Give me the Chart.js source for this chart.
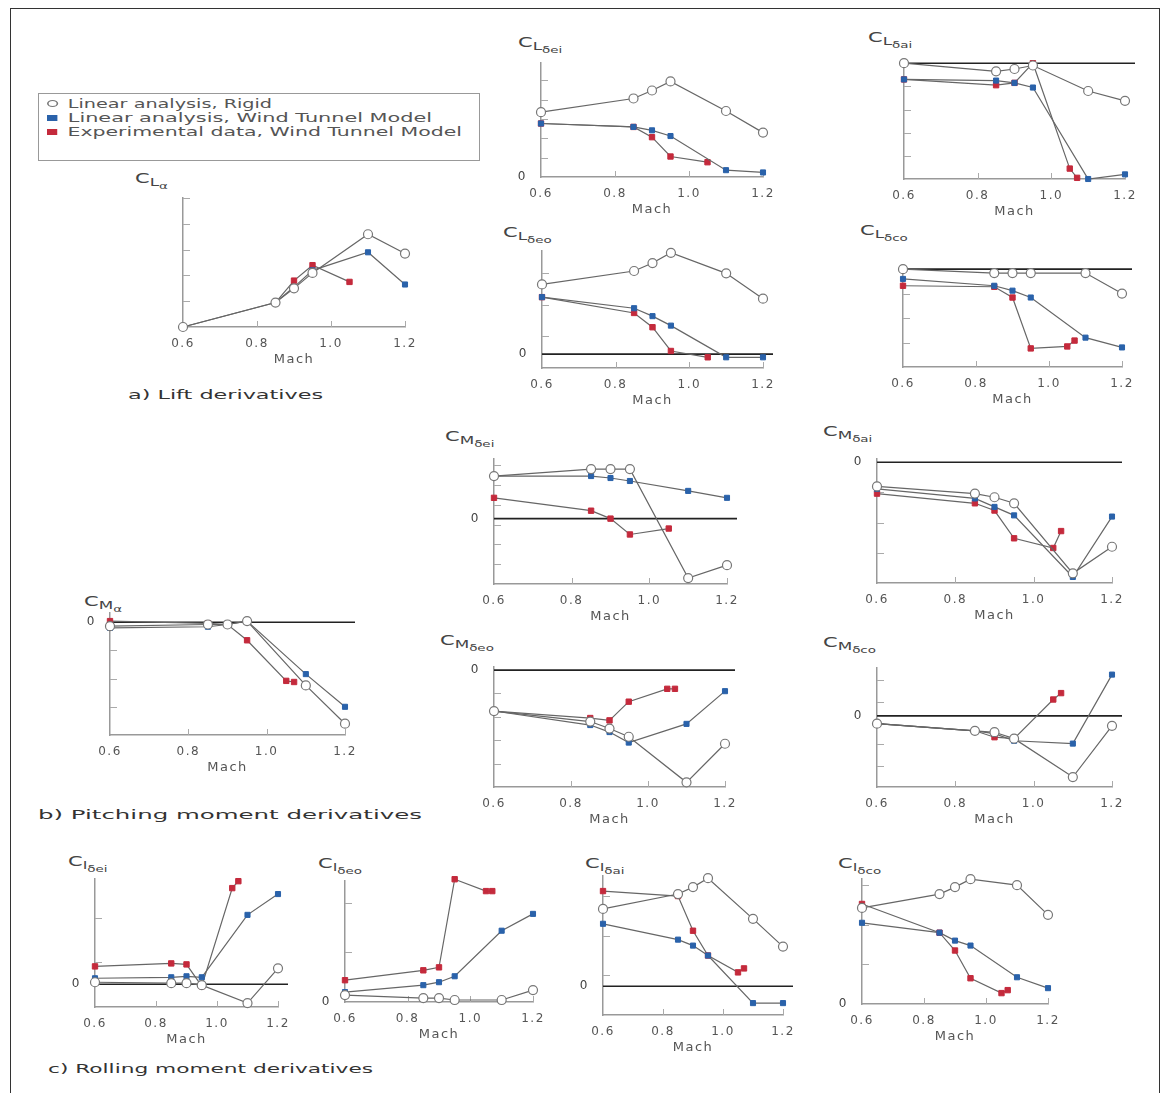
<!DOCTYPE html>
<html>
<head>
<meta charset="utf-8">
<script src="https://cdn.jsdelivr.net/npm/chart.js@4/dist/chart.umd.min.js"></script>
<style>
  html, body { margin: 0; padding: 0; background: #fff; }
  body { width: 1163px; height: 1093px; position: relative; overflow: hidden;
         font-family: "DejaVu Sans", "Liberation Sans", Arial, sans-serif; color: #444; }
  .frame { position: absolute; left: 10px; top: 8px; width: 1148px; height: 1110px; border: 1.5px solid #333; }
  .lbl { position: absolute; font-size: 14px; color: #444; white-space: nowrap; transform-origin: left top; }
  .lbl sub { font-size: 80%; vertical-align: -0.3em; }
  .section { position: absolute; font-size: 13px; color: #333; white-space: nowrap; transform-origin: left top; }
  .legend { position: absolute; left: 38px; top: 93px; width: 440px; height: 66px; border: 1px solid #999; }
  .legend div { position: absolute; left: 8px; font-size: 12px; color: #555; white-space: nowrap; transform-origin: left top; }
  .mk { display: inline-block; width: 6px; height: 6px; margin-right: 6px; vertical-align: 1px; }
</style>
</head>
<body>
<div class="frame"></div>

<div class="legend">
  <div data-w="225" style="top:3px"><span class="mk" style="border:1px solid #777;border-radius:50%;width:5px;height:5px"></span>Linear analysis, Rigid</div>
  <div data-w="385" style="top:17px"><span class="mk" style="background:#2a62aa"></span>Linear analysis, Wind Tunnel Model</div>
  <div data-w="415" style="top:31px"><span class="mk" style="background:#c42a3c"></span>Experimental data, Wind Tunnel Model</div>
</div>

<div class="section" data-w="195" style="left:128px;top:387px">a) Lift derivatives</div>
<div class="section" data-w="384" style="left:38px;top:807px">b) Pitching moment derivatives</div>
<div class="section" data-w="325" style="left:48px;top:1061px">c) Rolling moment derivatives</div>

<script>
// Mach numbers of the three data sets
const RIGID_MACH = [0.6, 0.85, 0.9, 0.95, 1.1, 1.2];
const MODEL_MACH = [0.6, 0.85, 0.9, 0.95, 1.1, 1.2];
const EXP_MACH = [0.6, 0.85, 0.9, 0.95, 1.05];
const EXP_MACH_2 = [0.6, 0.85, 0.9, 0.95, 1.05, 1.07];
const MACH_TICKS = [0.6, 0.8, 1.0, 1.2];

// a) lift derivatives (arbitrary units read off the figure)
const CL_ALPHA_RIGID = [0, 1.9, 3.0, 4.2, 7.2, 5.7];
const CL_ALPHA_MODEL = [0, 1.9, 3.1, 4.4, 5.8, 3.3];
const CL_ALPHA_EXP = [null, 1.9, 3.6, 4.8, 3.5];

const CL_DEI_RIGID = [5.7, 6.9, 7.6, 8.4, 5.8, 3.9];
const CL_DEI_MODEL = [4.7, 4.4, 4.1, 3.6, 0.6, 0.4];
const CL_DEI_EXP = [4.7, 4.4, 3.5, 1.8, 1.3];

const CL_DAI_RIGID = [10.0, 9.3, 9.5, 9.8, 7.6, 6.75];
const CL_DAI_MODEL = [8.6, 8.5, 8.3, 7.9, 0, 0.4];
const CL_DAI_EXP = [8.6, 8.1, 8.3, 10.0, 0.9, 0.1];

const CL_DEO_RIGID = [4.4, 5.25, 5.75, 6.4, 5.1, 3.5];
const CL_DEO_MODEL = [3.6, 2.9, 2.4, 1.8, -0.2, -0.2];
const CL_DEO_EXP = [3.6, 2.6, 1.7, 0.2, -0.2];

const CL_DCO_RIGID = [10.0, 9.6, 9.6, 9.6, 9.6, 7.5];
const CL_DCO_MODEL = [9.0, 8.3, 7.8, 7.1, 3.0, 2.0];
const CL_DCO_EXP = [8.3, 8.2, 7.1, 1.9, 2.1, 2.7];

// b) pitching moment derivatives
const CM_ALPHA_RIGID = [-0.35, -0.2, -0.2, 0.1, -5.6, -9.0];
const CM_ALPHA_MODEL = [-0.5, -0.4, -0.2, 0.1, -4.6, -7.5];
const CM_ALPHA_EXP = [0.1, -0.1, -0.2, -1.6, -5.2, -5.3];

const CM_DEI_RIGID = [4.3, 5.0, 5.0, 5.0, -6.0, -4.7];
const CM_DEI_MODEL = [4.3, 4.3, 4.1, 3.8, 2.8, 2.1];
const CM_DEI_EXP = [2.1, 0.8, 0, -1.6, -1.0];

const CM_DAI_RIGID = [-2.0, -2.6, -2.9, -3.4, -9.2, -7.0];
const CM_DAI_MODEL = [-2.2, -3.0, -3.7, -4.4, -9.5, -4.5];
const CM_DAI_EXP = [-2.6, -3.4, -4.0, -6.3, -7.1, -5.7];

const CM_DEO_RIGID = [-3.5, -4.4, -5.0, -5.7, -9.6, -6.3];
const CM_DEO_MODEL = [-3.5, -4.7, -5.3, -6.2, -4.6, -1.8];
const CM_DEO_EXP = [-3.5, -4.1, -4.3, -2.7, -1.6, -1.6];

const CM_DCO_RIGID = [-1.1, -2.1, -2.3, -3.2, -8.6, -1.4];
const CM_DCO_MODEL = [-1.1, -2.1, -2.5, -3.5, -3.9, 5.8];
const CM_DCO_EXP = [-1.1, -2.1, -3.0, -3.2, 2.3, 3.2];

// c) rolling moment derivatives
const CRL_DEI_RIGID = [0.2, 0.1, 0.1, -0.1, -1.9, 1.6];
const CRL_DEI_MODEL = [0.6, 0.7, 0.8, 0.7, 7.0, 9.1];
const CRL_DEI_EXP = [1.8, 2.1, 2.0, -0.2, 9.7, 10.4];

const CRL_DEO_RIGID = [0.7, 0.4, 0.4, 0.2, 0.2, 1.2];
const CRL_DEO_MODEL = [1.0, 1.7, 2.0, 2.6, 7.2, 8.9];
const CRL_DEO_EXP = [2.2, 3.2, 3.5, 12.4, 11.2, 11.2];

const CRL_DAI_RIGID = [7.8, 9.3, 10.0, 10.9, 6.8, 4.0];
const CRL_DAI_MODEL = [6.3, 4.7, 4.1, 3.1, -1.7, -1.7];
const CRL_DAI_EXP = [9.6, 9.1, 5.6, 3.1, 1.4, 1.8];

const CRL_DCO_RIGID = [9.7, 11.1, 11.8, 12.6, 12.0, 9.0];
const CRL_DCO_MODEL = [8.2, 7.2, 6.4, 5.9, 2.7, 1.6];
const CRL_DCO_EXP = [10.1, 7.2, 5.4, 2.6, 1.1, 1.4];

// placement of each small plot (pixel box of the plot area) and its y range
const PANELS = [
  { label: ["L", "α"], lx: 135, ly: 170, left: 183, right: 405, top: 197, bottom: 327, ymin: 0, ymax: 10, step: 2, ref: null, zero: false,
    rigid: CL_ALPHA_RIGID, model: CL_ALPHA_MODEL, exp: CL_ALPHA_EXP, expMach: EXP_MACH },
  { label: ["L", "δei"], lx: 518, ly: 34, left: 541, right: 763, top: 62, bottom: 177, ymin: 0, ymax: 10, step: 1.7, ref: null, zero: true,
    rigid: CL_DEI_RIGID, model: CL_DEI_MODEL, exp: CL_DEI_EXP, expMach: EXP_MACH },
  { label: ["L", "δai"], lx: 868, ly: 29, left: 904, right: 1125, top: 62, bottom: 179, ymin: 0, ymax: 10, step: 2, ref: 10, zero: false,
    rigid: CL_DAI_RIGID, model: CL_DAI_MODEL, exp: CL_DAI_EXP, expMach: EXP_MACH_2 },
  { label: ["L", "δeo"], lx: 503, ly: 224, left: 542, right: 763, top: 250, bottom: 368, ymin: -0.875, ymax: 6.5, step: 2, ref: 0, zero: true,
    rigid: CL_DEO_RIGID, model: CL_DEO_MODEL, exp: CL_DEO_EXP, expMach: EXP_MACH },
  { label: ["L", "δco"], lx: 860, ly: 222, left: 903, right: 1122, top: 265, bottom: 367, ymin: 0, ymax: 10.3, step: 2.5, ref: 10, zero: false,
    rigid: CL_DCO_RIGID, model: CL_DCO_MODEL, exp: CL_DCO_EXP, expMach: EXP_MACH_2 },

  { label: ["M", "α"], lx: 84, ly: 593, left: 110, right: 345, top: 612, bottom: 735, ymin: -10, ymax: 0.8, step: 2.5, ref: 0, zero: true,
    rigid: CM_ALPHA_RIGID, model: CM_ALPHA_MODEL, exp: CM_ALPHA_EXP, expMach: EXP_MACH_2 },
  { label: ["M", "δei"], lx: 445, ly: 428, left: 494, right: 727, top: 458, bottom: 584, ymin: -6.6, ymax: 6, step: 2, ref: 0, zero: true,
    rigid: CM_DEI_RIGID, model: CM_DEI_MODEL, exp: CM_DEI_EXP, expMach: EXP_MACH },
  { label: ["M", "δai"], lx: 823, ly: 423, left: 877, right: 1112, top: 458, bottom: 583, ymin: -10, ymax: 0.25, step: 2.5, ref: 0, zero: true,
    rigid: CM_DAI_RIGID, model: CM_DAI_MODEL, exp: CM_DAI_EXP, expMach: EXP_MACH_2 },
  { label: ["M", "δeo"], lx: 440, ly: 632, left: 494, right: 725, top: 666, bottom: 787, ymin: -10, ymax: 0.25, step: 2, ref: 0, zero: true,
    rigid: CM_DEO_RIGID, model: CM_DEO_MODEL, exp: CM_DEO_EXP, expMach: EXP_MACH_2 },
  { label: ["M", "δco"], lx: 823, ly: 634, left: 877, right: 1112, top: 667, bottom: 787, ymin: -10, ymax: 6.7, step: 3, ref: 0, zero: true,
    rigid: CM_DCO_RIGID, model: CM_DCO_MODEL, exp: CM_DCO_EXP, expMach: EXP_MACH_2 },

  { label: ["l", "δei"], lx: 68, ly: 853, left: 95, right: 278, top: 878, bottom: 1007, ymin: -2.3, ymax: 10.6, step: 4.5, ref: 0, zero: true,
    rigid: CRL_DEI_RIGID, model: CRL_DEI_MODEL, exp: CRL_DEI_EXP, expMach: EXP_MACH_2 },
  { label: ["l", "δeo"], lx: 318, ly: 855, left: 345, right: 533, top: 880, bottom: 1002, ymin: 0, ymax: 12.2, step: 5, ref: null, zero: true,
    rigid: CRL_DEO_RIGID, model: CRL_DEO_MODEL, exp: CRL_DEO_EXP, expMach: EXP_MACH_2 },
  { label: ["l", "δai"], lx: 585, ly: 855, left: 603, right: 783, top: 875, bottom: 1015, ymin: -2.9, ymax: 11.1, step: 4, ref: 0, zero: true,
    rigid: CRL_DAI_RIGID, model: CRL_DAI_MODEL, exp: CRL_DAI_EXP, expMach: EXP_MACH_2 },
  { label: ["l", "δco"], lx: 838, ly: 855, left: 862, right: 1048, top: 878, bottom: 1004, ymin: 0, ymax: 12.6, step: 4, ref: null, zero: true,
    rigid: CRL_DCO_RIGID, model: CRL_DCO_MODEL, exp: CRL_DCO_EXP, expMach: EXP_MACH_2 },
];

const PAD_L = 34, PAD_T = 12, PAD_R = 22, PAD_B = 40;

Chart.defaults.font.family = '"DejaVu Sans", "Liberation Sans", Arial, sans-serif';
Chart.defaults.color = "#444";

// the scanned figure has wide, stretched lettering
const wideText = {
  id: "wideText",
  beforeDraw(chart) { chart.ctx.letterSpacing = "1.5px"; },
};

// inner tick marks and the black reference line
const panelDecor = {
  id: "panelDecor",
  beforeDatasetsDraw(chart, args, opts) {
    const { ctx, chartArea: a, scales: { x, y } } = chart;
    ctx.save();
    ctx.strokeStyle = "#aaa";
    ctx.lineWidth = 1;
    const n = Math.floor((opts.ymax - opts.ymin) / opts.step + 1e-6);
    for (let i = 1; i <= n; i++) {
      const py = Math.round(y.getPixelForValue(opts.ymin + i * opts.step)) + 0.5;
      ctx.beginPath(); ctx.moveTo(a.left, py); ctx.lineTo(a.left + 7, py); ctx.stroke();
    }
    MACH_TICKS.slice(1).forEach((m) => {
      const px = Math.round(x.getPixelForValue(m)) + 0.5;
      ctx.beginPath(); ctx.moveTo(px, a.bottom); ctx.lineTo(px, a.bottom - 6); ctx.stroke();
    });
    if (opts.ref !== null && opts.ref !== undefined) {
      const py = y.getPixelForValue(opts.ref);
      ctx.strokeStyle = "#222";
      ctx.lineWidth = 1.6;
      ctx.beginPath(); ctx.moveTo(a.left, py); ctx.lineTo(a.right + 10, py); ctx.stroke();
    }
    ctx.restore();
  },
};

function toPoints(mach, vals) {
  return mach.map((m, i) => ({ x: m, y: vals[i] })).filter((p) => p.y !== null);
}

function makePanel(p) {
  const w = p.right - p.left + PAD_L + PAD_R;
  const h = p.bottom - p.top + PAD_T + PAD_B;

  const lbl = document.createElement("div");
  lbl.className = "lbl";
  lbl.style.left = p.lx + "px";
  lbl.style.top = p.ly + "px";
  lbl.style.transform = "scaleX(1.5)";
  lbl.innerHTML = "C<sub>" + p.label[0] + "<sub>" + p.label[1] + "</sub></sub>";
  document.body.appendChild(lbl);

  const canvas = document.createElement("canvas");
  canvas.width = w;
  canvas.height = h;
  canvas.style.cssText = `position:absolute;left:${p.left - PAD_L}px;top:${p.top - PAD_T}px;width:${w}px;height:${h}px`;
  document.body.appendChild(canvas);

  const lineStyle = { borderColor: "#666", borderWidth: 1.2, showLine: true, clip: false };

  new Chart(canvas, {
    type: "scatter",
    data: {
      datasets: [
        { ...lineStyle, label: "Linear analysis, Rigid", data: toPoints(RIGID_MACH, p.rigid),
          pointStyle: "circle", pointRadius: 4.5, pointBackgroundColor: "#fff", pointBorderColor: "#777", pointBorderWidth: 1.2 },
        { ...lineStyle, label: "Linear analysis, Wind Tunnel Model", data: toPoints(MODEL_MACH, p.model),
          pointStyle: "rect", pointRadius: 3.6, pointBackgroundColor: "#2a62aa", pointBorderColor: "#2a62aa", pointBorderWidth: 1 },
        { ...lineStyle, label: "Experimental data, Wind Tunnel Model", data: toPoints(p.expMach, p.exp),
          pointStyle: "rect", pointRadius: 3.8, pointBackgroundColor: "#c42a3c", pointBorderColor: "#c42a3c", pointBorderWidth: 1 },
      ],
    },
    options: {
      responsive: false,
      animation: false,
      layout: { padding: { left: 0, top: PAD_T, right: PAD_R, bottom: 0 } },
      plugins: {
        legend: { display: false },
        tooltip: { enabled: false },
        panelDecor: { ymin: p.ymin, ymax: p.ymax, step: p.step, ref: p.ref },
      },
      scales: {
        x: {
          type: "linear",
          min: 0.6,
          max: 1.2,
          afterBuildTicks: (scale) => { scale.ticks = MACH_TICKS.map((v) => ({ value: v })); },
          afterFit: (scale) => { scale.height = PAD_B; },
          ticks: { callback: (v) => v.toFixed(1), font: { size: 12 }, padding: 2, color: "#555", maxRotation: 0 },
          grid: { display: false },
          border: { display: true, color: "#999", width: 1.5 },
          title: { display: true, text: "Mach", font: { size: 13 }, color: "#555", padding: { top: 0, bottom: 0 } },
        },
        y: {
          min: p.ymin,
          max: p.ymax,
          afterBuildTicks: (scale) => { scale.ticks = [{ value: 0 }]; },
          afterFit: (scale) => { scale.width = PAD_L; },
          ticks: { callback: () => (p.zero ? "0" : ""), font: { size: 12 }, padding: 6, color: "#444" },
          grid: { display: false },
          border: { display: true, color: "#999", width: 1.5 },
        },
      },
    },
    plugins: [wideText, panelDecor],
  });
}

PANELS.forEach(makePanel);

// stretch the html texts to the widths they have in the figure
document.querySelectorAll("[data-w]").forEach((el) => {
  const natural = el.getBoundingClientRect().width;
  el.style.transform = "scaleX(" + (Number(el.dataset.w) / natural).toFixed(3) + ")";
});
</script>
</body>
</html>
